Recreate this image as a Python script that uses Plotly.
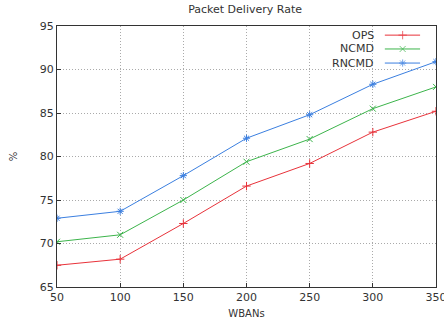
import plotly.graph_objects as go

wbans = [50, 100, 150, 200, 250, 300, 350]
ops = [67.5, 68.2, 72.3, 76.6, 79.2, 82.8, 85.2]
ncmd = [70.2, 71.0, 75.0, 79.4, 82.0, 85.5, 88.0]
rncmd = [72.9, 73.7, 77.8, 82.1, 84.8, 88.3, 90.9]

series = [("OPS", ops, "#e8323a", "cross-thin"),
          ("NCMD", ncmd, "#3cb44b", "x-thin"),
          ("RNCMD", rncmd, "#3b7fe0", "asterisk")]

FONT = "DejaVu Sans"
TXT = "#333333"

fig = go.Figure()
for name, vals, col, sym in series:
    fig.add_trace(go.Scatter(x=wbans, y=vals, mode="lines+markers", name=name,
                             line=dict(color=col, width=1),
                             marker=dict(symbol=sym, size=6, color=col,
                                         line=dict(color=col, width=1)),
                             showlegend=False))

# custom legend (text left, sample line right) on an overlay axis
leg_y = [0.965, 0.912, 0.858]
for (name, vals, col, sym), ly in zip(series, leg_y):
    fig.add_trace(go.Scatter(x=[0.865, 0.912, 0.958], y=[ly, ly, ly], xaxis="x2", yaxis="y2",
                             mode="lines+markers", showlegend=False, hoverinfo="skip",
                             line=dict(color=col, width=1),
                             marker=dict(symbol=sym, size=[0, 6, 0], color=col,
                                         line=dict(color=col, width=1))))
    fig.add_annotation(x=0.842, y=ly, xref="x2", yref="y2", text=name, showarrow=False,
                       xanchor="right", yanchor="middle",
                       font=dict(family=FONT, size=11, color=TXT))

grid = dict(showgrid=True, gridcolor="#aaaaaa", griddash="1px,2px", gridwidth=1,
            showline=True, linecolor="#333333", linewidth=1, mirror=True,
            ticks="inside", ticklen=4, tickcolor="#333333", zeroline=False,
            tickfont=dict(size=11), automargin=False)

fig.update_layout(
    width=444, height=324,
    margin=dict(l=57, r=8, t=26, b=37),
    paper_bgcolor="white", plot_bgcolor="white",
    font=dict(family=FONT, size=11, color=TXT),
    title=dict(text="Packet Delivery Rate", x=0.552, xanchor="center", y=0.985, yanchor="top",
               font=dict(family=FONT, size=11, color=TXT)),
    xaxis=dict(range=[50, 350], tickvals=wbans, ticklabeloverflow="allow",
               title=dict(text="WBANs", font=dict(size=10), standoff=6), **grid),
    yaxis=dict(range=[65, 95], dtick=5,
               title=dict(text="%", font=dict(size=10), standoff=20), **grid),
    xaxis2=dict(overlaying="x", range=[0, 1], visible=False, fixedrange=True),
    yaxis2=dict(overlaying="y", range=[0, 1], visible=False, fixedrange=True),
)

fig.write_html("out.html")
